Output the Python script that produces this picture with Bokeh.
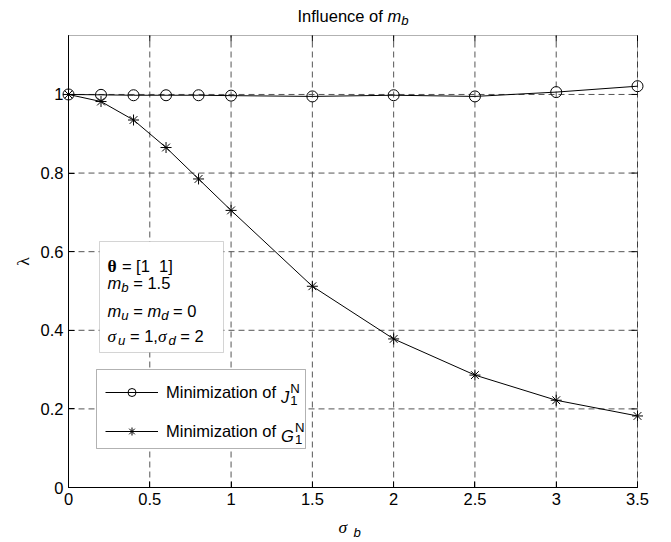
import math
from bokeh.plotting import figure
from bokeh.models import (Label, BoxAnnotation, Legend, LegendItem, FixedTicker, Range1d)
from bokeh.embed import file_html
from bokeh.resources import INLINE

# ---------------- data ----------------
sigma_b = [0.0, 0.2, 0.4, 0.6, 0.8, 1.0, 1.5, 2.0, 2.5, 3.0, 3.5]
lambda_J = [1.000, 0.999, 0.998, 0.998, 0.998, 0.997, 0.995, 0.998, 0.995, 1.006, 1.021]
lambda_G = [1.000, 0.982, 0.935, 0.865, 0.785, 0.705, 0.512, 0.378, 0.286, 0.222, 0.182]
x_ticks = [0, 0.5, 1, 1.5, 2, 2.5, 3, 3.5]
x_tick_labels = ["0", "0.5", "1", "1.5", "2", "2.5", "3", "3.5"]
y_ticks = [0, 0.2, 0.4, 0.6, 0.8, 1]
y_tick_labels = ["0", "0.2", "0.4", "0.6", "0.8", "1"]
legend_prefix = "Minimization of"
legend_letters = ["J", "G"]

# ---------------- layout (page pixels) ----------------
X0, X1, Y0, Y1 = 0.0, 3.5, 0.0, 1.15          # axes box limits
CW, CH = 671, 542
FL, FT, FW, FH = 68, 35, 569, 452             # axes box on the page
FS = 16.5
SANS = "Liberation Sans"
SERIF = "Liberation Serif"
NB = "\u00a0"


def dx(px):
    return X0 + (px - FL) / FW * (X1 - X0)


def dy(py):
    return Y1 - (py - FT) / FH * (Y1 - Y0)


W = {' ': 278, NB: 278, '=': 584, '[': 278, ']': 278, '.': 278, ',': 278, 'I': 278,
     'n': 556, 'f': 278, 'l': 222, 'u': 556, 'e': 556, 'c': 500, 'o': 556, 'M': 833,
     'i': 222, 'm': 833, 'z': 500, 'a': 556, 't': 278, 'b': 556, 'd': 556, 'J': 500,
     'G': 778, 'N': 722, 'σ': 600, 'θ': 560, 'λ': 549}
for ch in "0123456789":
    W[ch] = 556


def tw(s, size):
    return sum(W.get(c, 556) for c in s) / 1000.0 * size


# the plotting frame covers the whole canvas; the axes sit at fixed data locations
p = figure(width=CW, height=CH, x_range=Range1d(dx(0), dx(CW)),
           y_range=Range1d(dy(CH), dy(0)), output_backend="svg",
           toolbar_location=None, title=None, min_border=0)
p.background_fill_color = "white"
p.border_fill_color = "white"
p.outline_line_color = None
p.xgrid.visible = False
p.ygrid.visible = False

for ax, ticks, labels, loc, bnds in ((p.xaxis[0], x_ticks, x_tick_labels, Y0, (X0, X1)),
                                     (p.yaxis[0], y_ticks, y_tick_labels, X0, (Y0, Y1))):
    ax.fixed_location = loc
    ax.bounds = bnds
    ax.ticker = FixedTicker(ticks=ticks)
    ax.major_tick_in = 6
    ax.major_tick_out = 0
    ax.minor_tick_line_color = None
    ax.axis_line_color = "black"
    ax.major_tick_line_color = "black"
    ax.major_label_overrides = {t: l for t, l in zip(ticks, labels)}
    ax.major_label_text_font = SANS
    ax.major_label_text_font_size = f"{FS}px"
    ax.major_label_text_color = "black"
    ax.major_label_standoff = 5

# dashed grid at the tick positions, inside the axes box
p.segment(x0=x_ticks, x1=x_ticks, y0=[Y0] * len(x_ticks), y1=[Y1] * len(x_ticks),
          line_color="#555555", line_dash="6 4", line_width=1)
p.segment(x0=[X0] * len(y_ticks), x1=[X1] * len(y_ticks), y0=y_ticks, y1=y_ticks,
          line_color="#555555", line_dash="6 4", line_width=1)

# inward ticks on the top and right edges of the box
TICK = 6
p.segment(x0=x_ticks, x1=x_ticks, y0=[Y1] * len(x_ticks),
          y1=[Y1 - TICK / FH * (Y1 - Y0)] * len(x_ticks), line_color="black", line_width=1)
p.segment(x0=[X1] * len(y_ticks), x1=[X1 - TICK / FW * (X1 - X0)] * len(y_ticks),
          y0=y_ticks, y1=y_ticks, line_color="black", line_width=1)

# axes box
p.add_layout(BoxAnnotation(left=X0, right=X1, bottom=Y0, top=Y1, fill_alpha=0.0,
                           line_color="black", line_width=1))

# ---------------- series ----------------
lJ = p.line(sigma_b, lambda_J, line_color="black", line_width=1)
mJ = p.scatter(sigma_b, lambda_J, marker="circle", size=11, fill_color=None,
               line_color="black", line_width=1)
lG = p.line(sigma_b, lambda_G, line_color="black", line_width=1)
mG = p.scatter(sigma_b, lambda_G, marker="asterisk", size=11, line_color="black",
               line_width=1)


# ---------------- rich text helper ----------------
def rich(parts, px, py):
    x = px
    for text, size, font, style, drop in parts:
        p.add_layout(Label(x=dx(x), y=dy(py + drop), text=text.replace(" ", NB),
                           text_font=font, text_font_size=f"{size}px",
                           text_font_style=style, text_color="black", text_align="left",
                           text_baseline="alphabetic", level="overlay"))
        x += tw(text, size)


SUB = FS * 0.8

# title
title_parts = [("Influence of ", FS, SANS, "normal", 0), ("m", FS, SANS, "italic", 0),
               ("b", SUB, SANS, "italic", 5)]
tot = sum(tw(t, s) for t, s, *_ in title_parts)
rich(title_parts, FL + FW / 2 - tot / 2, 15)

# x label
rich([("σ", FS + 1, SERIF, "italic", 0), (" ", FS, SANS, "normal", 0),
      ("b", SUB, SANS, "italic", 6)], 338, 526)

# y label
p.add_layout(Label(x=dx(22), y=dy(FT + FH / 2), text="λ", text_font=SERIF,
                   text_font_size=f"{FS + 1}px", angle=math.pi / 2, text_align="center",
                   text_baseline="middle", text_color="black", level="overlay"))

# parameter box
p.add_layout(BoxAnnotation(left=dx(99), right=dx(223), top=dy(241), bottom=dy(352),
                           fill_color="white", fill_alpha=1.0, line_color="#707070",
                           line_width=1))
TX = 107
rich([("θ", FS + 1, SERIF, "bold", 0), (" = [1  1]", FS, SANS, "normal", 0)], TX, 265)
rich([("m", FS, SANS, "italic", 0), ("b", SUB, SANS, "italic", 5),
      (" = 1.5", FS, SANS, "normal", 0)], TX, 282)
rich([("m", FS, SANS, "italic", 0), ("u", SUB, SANS, "italic", 5),
      (" = ", FS, SANS, "normal", 0), ("m", FS, SANS, "italic", 0),
      ("d", SUB, SANS, "italic", 5), (" = 0", FS, SANS, "normal", 0)], TX, 310)
rich([("σ", FS + 1, SERIF, "italic", 0), ("u", SUB, SANS, "italic", 5),
      (" = 1,", FS, SANS, "normal", 0), ("σ", FS + 1, SERIF, "italic", 0),
      ("d", SUB, SANS, "italic", 5), (" = 2", FS, SANS, "normal", 0)], TX, 335)

# legend: white box drawn as an annotation, legend itself transparent
PAD, GW, GH, SP, STAND = 10, 53, 20, 19, 8
LW = 128
LEFT, TOPY = 96, 369
HEIGHT = 2 * PAD + 2 * GH + SP
WIDTH = 2 * PAD + GW + STAND + LW
p.add_layout(BoxAnnotation(left=dx(LEFT), right=dx(LEFT + WIDTH), top=dy(TOPY),
                           bottom=dy(TOPY + HEIGHT), fill_color="white", fill_alpha=1.0,
                           line_color="black", line_width=1))
legend = Legend(items=[LegendItem(label=legend_prefix, renderers=[lJ, mJ]),
                       LegendItem(label=legend_prefix, renderers=[lG, mG])],
                location=(LEFT + 9, CH - (TOPY + HEIGHT) + 7),
                padding=PAD, spacing=SP, glyph_width=GW, glyph_height=GH,
                label_height=GH, label_width=LW, label_standoff=STAND, margin=0,
                border_line_color=None, background_fill_alpha=0.0,
                label_text_font=SANS, label_text_font_size=f"{FS}px",
                label_text_color="black")
p.add_layout(legend)

lx = LEFT + 9 + GW + STAND + tw(legend_prefix + " ", FS)
for i, letter in enumerate(legend_letters):
    cy = TOPY + PAD + GH / 2 + i * (GH + SP) + 1
    rich([(letter, FS, SANS, "italic", 0)], lx, cy + 6)
    off = tw(letter, FS) + 1
    rich([("1", SUB, SANS, "normal", 0)], lx + off, cy + 10)
    rich([("N", SUB, SANS, "normal", 0)], lx + off, cy - 2)

open("out.html", "w").write(file_html(p, INLINE))
